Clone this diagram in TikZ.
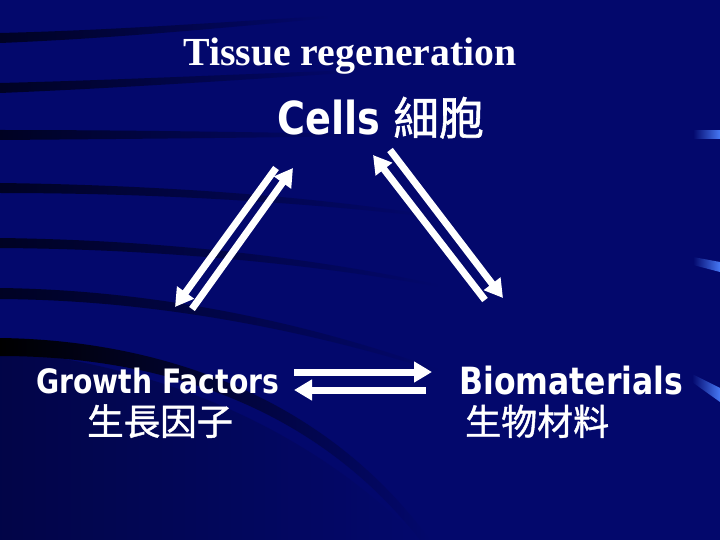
\documentclass[tikz,border=0pt]{standalone}
\usepackage{fontspec}
\setmainfont{Liberation Serif}
\newfontfamily\sansb{DejaVu Sans}[FakeStretch=0.84]
\newfontfamily\cjk{Noto Sans CJK TC}[FakeBold=1.2]
\usetikzlibrary{arrows.meta}
\definecolor{bg}{RGB}{3,8,108}
\definecolor{streak}{RGB}{0,2,35}
\definecolor{glow}{RGB}{70,120,245}
\tikzset{
  lbl/.style={inner sep=0pt, anchor=base west, text=white},
  twoway/.style={draw=white, line width=7pt, -{Triangle[width=20pt,length=18pt]}},
}
\begin{document}
\begin{tikzpicture}[x=1pt,y=-1pt]
\useasboundingbox (0,0) rectangle (720,540);
\fill[bg] (0,0) rectangle (720,540);
% darker lower-left area
\shade[left color=streak!50!bg, right color=bg] (0,350) .. controls (150,365) and (300,420) .. (420,540) -- (0,540) -- cycle;
% dark streaks
\shade[left color=streak, right color=bg] (0,33) .. controls (120,30) and (220,22) .. (330,16) -- (330,18) .. controls (220,28) and (120,38) .. (0,43) -- cycle;
\shade[left color=streak, right color=bg] (0,83) .. controls (120,80) and (240,74) .. (360,70) -- (360,72) .. controls (240,80) and (120,88) .. (0,93) -- cycle;
\shade[left color=streak, right color=bg] (0,130) .. controls (120,130) and (240,132) .. (360,134) -- (360,136) .. controls (240,138) and (120,139) .. (0,140) -- cycle;
\shade[left color=streak, right color=bg] (0,183) .. controls (150,185) and (300,195) .. (430,215) -- (430,217) .. controls (300,202) and (150,193) .. (0,193) -- cycle;
\shade[left color=streak, right color=bg] (0,238) .. controls (150,240) and (300,255) .. (440,285) -- (440,287) .. controls (300,262) and (150,249) .. (0,248) -- cycle;
\shade[left color=streak, right color=bg] (0,288) .. controls (150,290) and (300,320) .. (440,370) -- (440,372) .. controls (300,328) and (150,300) .. (0,299) -- cycle;
\shade[left color=black, right color=bg] (0,338) .. controls (150,340) and (320,390) .. (430,540) -- (420,540) .. controls (310,400) and (150,356) .. (0,356) -- cycle;
% bright marks at right edge
\shade[left color=bg, right color=glow] (693,131) -- (720,131) -- (720,139) -- (693,139) -- cycle;
\shade[left color=bg, right color=glow] (693,257) -- (720,262) -- (720,272) -- (693,265) -- cycle;
\shade[left color=bg, right color=glow] (692,374) -- (720,388) -- (720,402) -- (692,382) -- cycle;

% texts
\node[lbl, font={\bfseries\fontsize{39.8}{45}\selectfont}] (title) at (183,66) {Tissue regeneration};
\node[lbl, font={\sansb\bfseries\fontsize{45.5}{50}\selectfont}] (cells) at (277,135) {Cells {\cjk\mdseries 細胞}};
\node[lbl, font={\sansb\bfseries\fontsize{33.6}{38}\selectfont}] (gf) at (36,393) {Growth Factors};
\node[lbl, font={\cjk\fontsize{36.5}{40}\selectfont}] (gfzh) at (87,435) {生長因子};
\node[lbl, font={\sansb\bfseries\fontsize{37.5}{40}\selectfont}] (bio) at (459,394) {Biomaterials};
\node[lbl, font={\cjk\fontsize{36}{40}\selectfont}] (biozh) at (465,435) {生物材料};

% arrow end points
\coordinate (l1s) at (276,168); \coordinate (l1e) at (175,307);
\coordinate (l2s) at (192,309); \coordinate (l2e) at (293,168);
\coordinate (r1s) at (485,300); \coordinate (r1e) at (373,155);
\coordinate (r2s) at (390,150); \coordinate (r2e) at (503,298);
\coordinate (h1s) at (294,372); \coordinate (h1e) at (432,372);
\coordinate (h2s) at (426,390); \coordinate (h2e) at (294,390);
\draw[twoway] (l1s) -- (l1e);
\draw[twoway] (l2s) -- (l2e);
\draw[twoway] (r1s) -- (r1e);
\draw[twoway] (r2s) -- (r2e);
\draw[twoway] (h1s) -- (h1e);
\draw[twoway] (h2s) -- (h2e);
\end{tikzpicture}
\end{document}
